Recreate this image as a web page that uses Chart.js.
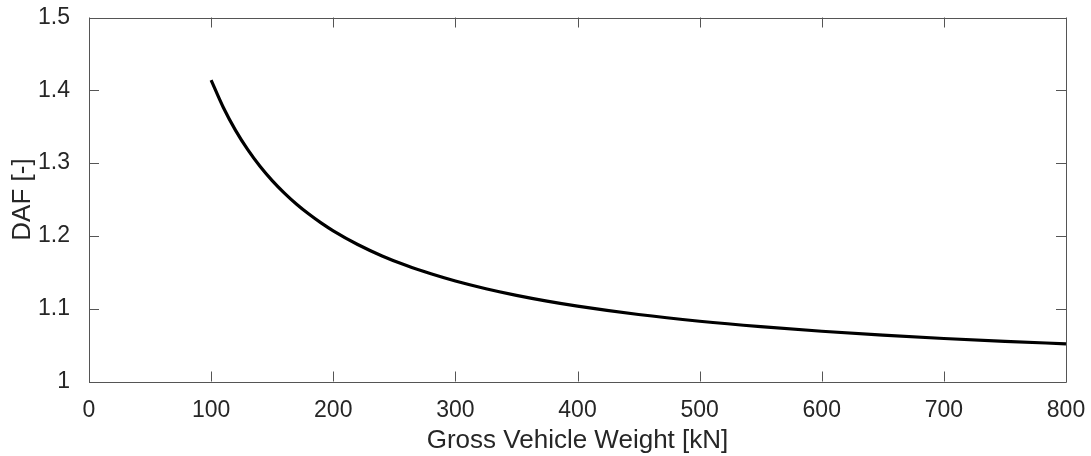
<!DOCTYPE html>
<html>
<head>
<meta charset="utf-8">
<title>DAF</title>
<script src="https://cdn.jsdelivr.net/npm/chart.js@4"></script>
<style>
  html, body { margin: 0; padding: 0; background: #fff; overflow: hidden; }
  #box { width: 1091px; height: 456px; position: relative; }
</style>
</head>
<body>
<div id="box"><canvas id="grafico"></canvas></div>
<script>
// peso bruto do veículo [kN] e fator de amplificação dinâmica
const peso = [100, 110, 120, 130, 140, 150, 160, 170, 180, 190, 200, 220, 240, 260, 280,
              300, 325, 350, 375, 400, 450, 500, 550, 600, 650, 700, 750, 800]
const daf = [1.414, 1.3764, 1.345, 1.3185, 1.2957, 1.276, 1.2588, 1.2435, 1.23, 1.2179,
             1.207, 1.1882, 1.1725, 1.1592, 1.1479, 1.138, 1.1274, 1.1183, 1.1104, 1.1035,
             1.092, 1.0828, 1.0753, 1.069, 1.0637, 1.0591, 1.0552, 1.0518]

const xTicks = [0, 100, 200, 300, 400, 500, 600, 700, 800]
const yTicks = [1, 1.1, 1.2, 1.3, 1.4, 1.5]

const cor = '#262626'
const familia = '"Liberation Sans", Arial, Helvetica, sans-serif'
const fonteTicks = { family: familia, size: 23 }
const fonteTitulo = { family: familia, size: 26 }

// caixa do gráfico com marcas de escala para dentro (estilo matlab)
const caixa = {
    id: 'caixa',
    afterDraw(chart) {
        const { ctx, chartArea: a, scales: { x, y } } = chart
        const len = 10
        ctx.save()
        ctx.strokeStyle = '#555'
        ctx.lineWidth = 1
        ctx.beginPath()
        ctx.rect(Math.round(a.left) + 0.5, Math.round(a.top) + 0.5,
                 Math.round(a.right - a.left), Math.round(a.bottom - a.top))
        xTicks.forEach(v => {
            const px = Math.round(x.getPixelForValue(v)) + 0.5
            ctx.moveTo(px, a.bottom); ctx.lineTo(px, a.bottom - len)
            ctx.moveTo(px, a.top); ctx.lineTo(px, a.top + len)
        })
        yTicks.forEach(v => {
            const py = Math.round(y.getPixelForValue(v)) + 0.5
            ctx.moveTo(a.left, py); ctx.lineTo(a.left + len, py)
            ctx.moveTo(a.right, py); ctx.lineTo(a.right - len, py)
        })
        ctx.stroke()
        ctx.restore()
    }
}

const ctx = document.getElementById('grafico').getContext('2d')

const data = {
    datasets: [{
        data: peso.map((p, i) => ({ x: p, y: daf[i] })),
        borderColor: '#000',
        borderWidth: 3.2,
        pointRadius: 0,
        cubicInterpolationMode: 'monotone',
        fill: false
    }]
}

const config = {
    type: 'line',
    data,
    options: {
        responsive: true,
        maintainAspectRatio: false,
        animation: false,
        layout: { autoPadding: false, padding: { top: 17.5, right: 25, left: 0, bottom: 0 } },
        plugins: { legend: { display: false }, tooltip: { enabled: false } },
        scales: {
            x: {
                type: 'linear',
                min: 0,
                max: 800,
                afterBuildTicks: s => { s.ticks = xTicks.map(v => ({ value: v })) },
                afterFit: s => { s.height = 74.5; s.paddingLeft = 0; s.paddingRight = 0 },
                grid: { display: false },
                border: { display: false },
                ticks: { color: cor, font: fonteTicks, padding: 7, maxRotation: 0, callback: v => String(v) },
                title: { display: true, text: 'Gross Vehicle Weight [kN]', color: cor, font: fonteTitulo, padding: { top: 0, bottom: 0 } }
            },
            y: {
                type: 'linear',
                min: 1,
                max: 1.5,
                afterBuildTicks: s => { s.ticks = yTicks.map(v => ({ value: v })) },
                afterFit: s => { s.width = 89; s.paddingTop = 0; s.paddingBottom = 0 },
                grid: { display: false },
                border: { display: false },
                ticks: { color: cor, font: fonteTicks, padding: 11, callback: v => String(Math.round(v * 10) / 10) },
                title: { display: true, text: 'DAF [-]', color: cor, font: fonteTitulo, padding: { top: 7, bottom: 0 } }
            }
        }
    },
    plugins: [caixa]
}

const myChart = new Chart(ctx, config)
</script>
</body>
</html>
